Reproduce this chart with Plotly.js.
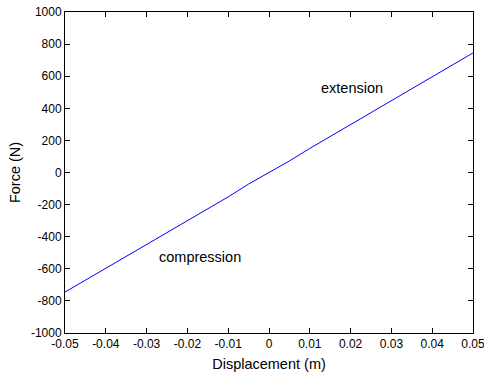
<!DOCTYPE html>
<html><head><meta charset="utf-8">
<script src="https://cdn.plot.ly/plotly-3.0.1.min.js"></script>
<style>html,body{margin:0;padding:0;background:#fff;overflow:hidden}</style>
</head><body>
<div id="chart" style="width:484px;height:374px"></div>
<script>
const displacement = [-0.05, -0.04, -0.03, -0.02, -0.01, -0.005, 0, 0.005, 0.01, 0.02, 0.03, 0.04, 0.05];
const force = [-745, -597, -448, -299, -152, -72, -2, 72, 150, 298, 447, 596, 745];
const xTicks = [-0.05, -0.04, -0.03, -0.02, -0.01, 0, 0.01, 0.02, 0.03, 0.04, 0.05];
const xTickText = ['-0.05', '-0.04', '-0.03', '-0.02', '-0.01', '0', '0.01', '0.02', '0.03', '0.04', '0.05'];
const yTicks = [-1000, -800, -600, -400, -200, 0, 200, 400, 600, 800, 1000];
const yTickText = ['-1000', '-800', '-600', '-400', '-200', '0', '200', '400', '600', '800', '1000'];
const labels = ['extension', 'compression'];
const labelX = [0.0204, -0.0168];
const labelY = [527, -526];

const family = 'Liberation Sans, Arial, sans-serif';
const font = {family: family, size: 12, color: '#000'};
const axisBase = {
  showgrid: false, zeroline: false, showline: true, linecolor: '#000', linewidth: 1,
  mirror: 'ticks', ticks: 'inside', ticklen: 5, tickcolor: '#000', tickwidth: 1,
  tickfont: font, ticklabeloverflow: 'allow'
};
Plotly.newPlot('chart', [{
  x: displacement, y: force, type: 'scatter', mode: 'lines',
  line: {color: '#0000ff', width: 1}, hoverinfo: 'none'
}], {
  width: 484, height: 374,
  margin: {l: 65, r: 11, t: 12, b: 41},
  paper_bgcolor: '#fff', plot_bgcolor: '#fff',
  showlegend: false,
  font: font,
  xaxis: Object.assign({}, axisBase, {
    range: [-0.05, 0.05], tickvals: xTicks, ticktext: xTickText,
    title: {text: 'Displacement (m)', font: {family: family, size: 14.5, color: '#000'}, standoff: 8}
  }),
  yaxis: Object.assign({}, axisBase, {
    range: [-1000, 1000], tickvals: yTicks, ticktext: yTickText,
    title: {text: 'Force (N)', font: {family: family, size: 14.5, color: '#000'}, standoff: 6}
  }),
  annotations: labels.map((t, i) => ({
    x: labelX[i], y: labelY[i], xref: 'x', yref: 'y', text: t, showarrow: false,
    font: {family: family, size: 14.5, color: '#000'}
  }))
}, {staticPlot: true});
</script>
</body></html>
